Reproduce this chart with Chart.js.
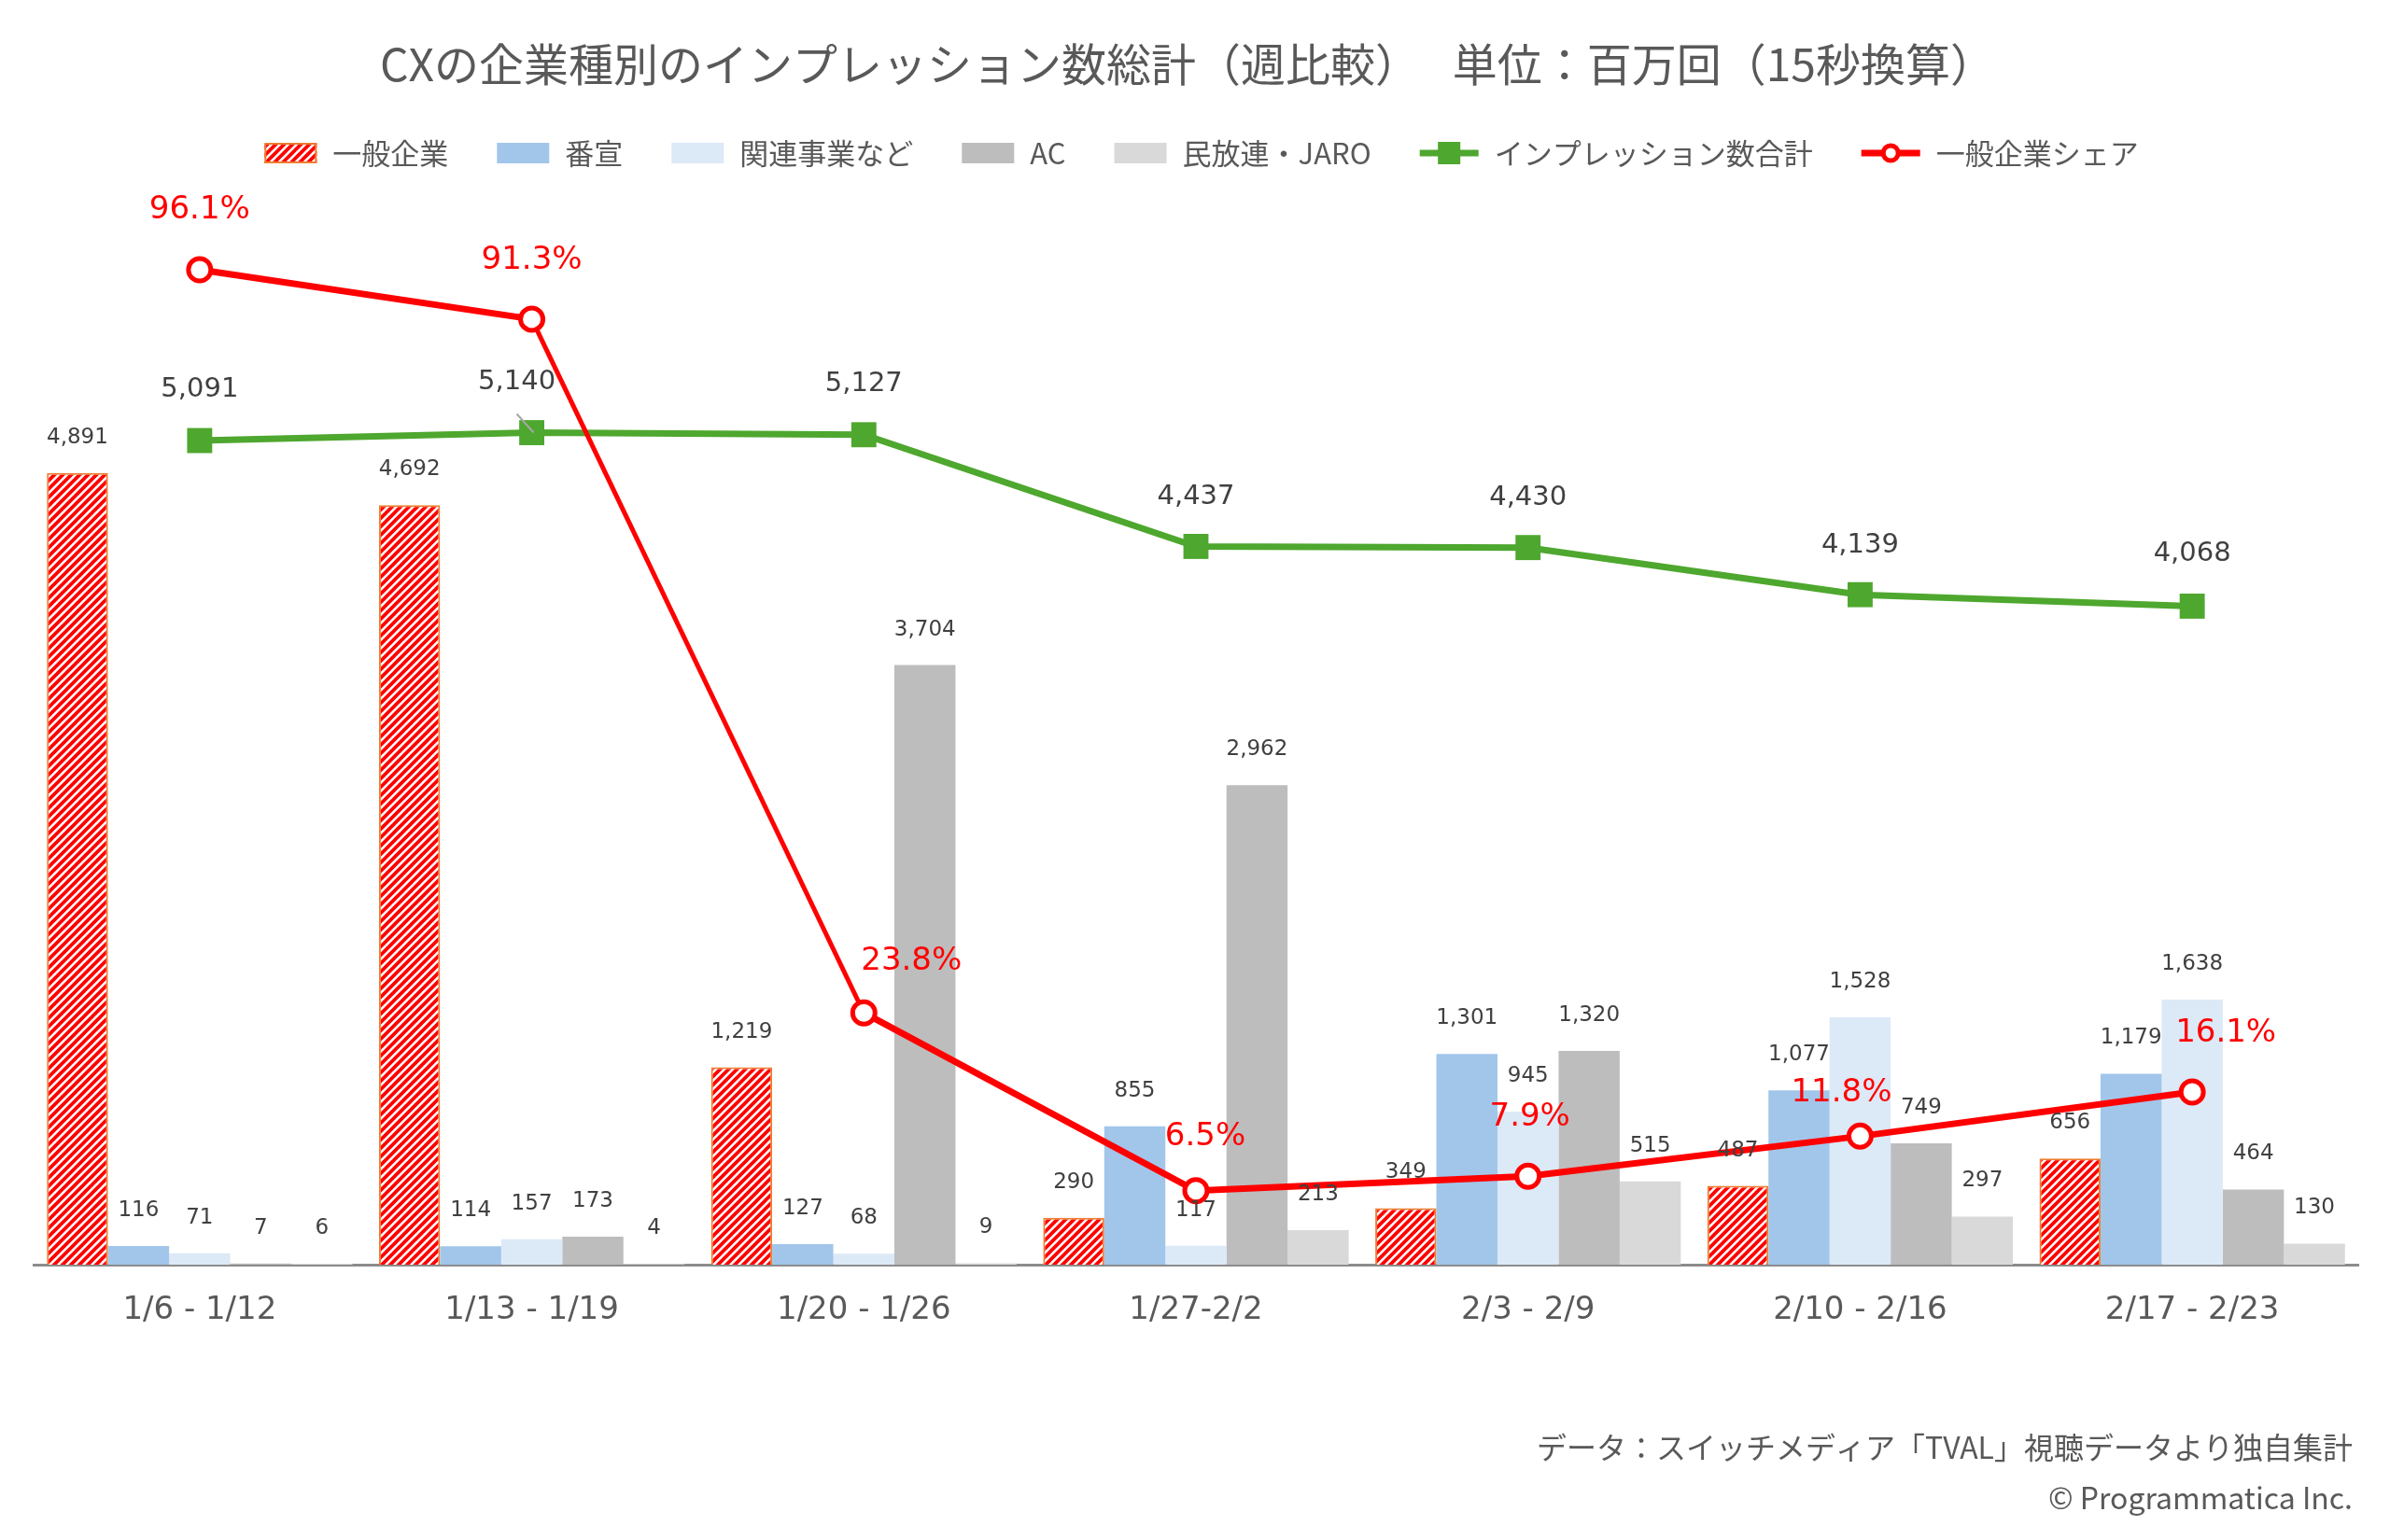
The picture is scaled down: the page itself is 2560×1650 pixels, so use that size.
<!DOCTYPE html>
<html lang="ja">
<head>
<meta charset="utf-8">
<title>CXの企業種別のインプレッション数総計</title>
<script src="https://cdn.jsdelivr.net/npm/chart.js@4.4.0/dist/chart.umd.min.js"></script>
<style>
  html, body { margin: 0; padding: 0; background: #fff; }
  #wrap { width: 2560px; height: 1650px; }
</style>
</head>
<body>
<div id="wrap"><canvas id="myChart" width="2560" height="1650"></canvas></div>
<script>
// データ（単位：百万回）
const weeks = ['1/6 - 1/12', '1/13 - 1/19', '1/20 - 1/26', '1/27-2/2', '2/3 - 2/9', '2/10 - 2/16', '2/17 - 2/23'];
const ippanKigyo = [4891, 4692, 1219, 290, 349, 487, 656];
const bansen = [116, 114, 127, 855, 1301, 1077, 1179];
const kanrenJigyo = [71, 157, 68, 117, 945, 1528, 1638];
const acData = [7, 173, 3704, 2962, 1320, 749, 464];
const minpororen = [6, 4, 9, 213, 515, 297, 130];
const impTotal = [5091, 5140, 5127, 4437, 4430, 4139, 4068];
const ippanShare = [96.1, 91.3, 23.8, 6.5, 7.9, 11.8, 16.1];

// ラベルの位置ずらし（px）
const totalLabelShift = [[0, -55], [-16, -54], [0, -54], [0, -53], [0, -53], [0, -53], [0, -56]];
const shareLabelShift = [[0, -65], [0, -64], [51, -56], [10, -59], [2, -64], [-20, -47], [36, -64]];

const TEXT_GRAY = '#595959';
const LABEL_GRAY = '#404040';
const JP_FONT = '"Noto Sans CJK JP", "Noto Sans", sans-serif';
const NUM_FONT = '"DejaVu Sans", Verdana, sans-serif';

const canvas = document.getElementById('myChart');
const mainCtx = canvas.getContext('2d');

// 一般企業の斜線パターン
function makeStripePattern() {
  const c = document.createElement('canvas');
  c.width = 9; c.height = 9;
  const g = c.getContext('2d');
  g.fillStyle = '#ffffff';
  g.fillRect(0, 0, 9, 9);
  g.strokeStyle = '#ff0000';
  g.lineWidth = 3.8;
  g.beginPath();
  g.moveTo(-2, 11); g.lineTo(11, -2);
  g.moveTo(-3, 3); g.lineTo(3, -3);
  g.moveTo(6, 12); g.lineTo(12, 6);
  g.stroke();
  return mainCtx.createPattern(c, 'repeat');
}
const stripe = makeStripePattern();

function fmt(v) {
  return v.toLocaleString('en-US');
}

// タイトル・凡例・出典・データラベルを描くプラグイン
const decorPlugin = {
  id: 'decor',
  afterDatasetsDraw(chart) {
    const ctx = chart.ctx;
    ctx.save();
    ctx.textAlign = 'center';
    ctx.textBaseline = 'middle';

    // 棒のラベル
    ctx.font = '23px ' + NUM_FONT;
    ctx.fillStyle = LABEL_GRAY;
    for (let i = 0; i < 5; i++) {
      const meta = chart.getDatasetMeta(i);
      meta.data.forEach((bar, j) => {
        const v = chart.data.datasets[i].data[j];
        ctx.fillText(fmt(v), bar.x, bar.y - 38);
      });
    }

    // インプレッション数合計のラベル
    const tMeta = chart.getDatasetMeta(5);
    ctx.font = '29px ' + NUM_FONT;
    tMeta.data.forEach((pt, j) => {
      const s = totalLabelShift[j];
      ctx.fillStyle = LABEL_GRAY;
      ctx.fillText(fmt(impTotal[j]), pt.x + s[0], pt.y + s[1]);
    });
    // 引き出し線
    const p1 = tMeta.data[1];
    ctx.strokeStyle = '#a6a6a6';
    ctx.lineWidth = 2;
    ctx.beginPath();
    ctx.moveTo(p1.x - 16, p1.y - 20);
    ctx.lineTo(p1.x + 2, p1.y);
    ctx.stroke();

    // シェアのラベル
    const sMeta = chart.getDatasetMeta(6);
    ctx.font = '34px ' + NUM_FONT;
    ctx.fillStyle = '#ff0000';
    sMeta.data.forEach((pt, j) => {
      const s = shareLabelShift[j];
      ctx.fillText(ippanShare[j].toFixed(1) + '%', pt.x + s[0], pt.y + s[1] + 1);
    });
    ctx.restore();
  },
  afterDraw(chart) {
    const ctx = chart.ctx;
    ctx.save();
    // タイトル
    ctx.font = '48px ' + JP_FONT;
    ctx.fillStyle = TEXT_GRAY;
    ctx.textAlign = 'center';
    ctx.textBaseline = 'middle';
    ctx.fillText('CXの企業種別のインプレッション数総計（週比較）　 単位：百万回（15秒換算）', 1272, 69);

    // 凡例
    ctx.font = '31px ' + JP_FONT;
    const ds = chart.data.datasets;
    const items = ds.map(d => {
      const iconW = d.type === 'line' ? 63 : 56;
      return { d, iconW, w: iconW + 17 + ctx.measureText(d.label).width };
    });
    const gap = 52;
    const total = items.reduce((s, it) => s + it.w, 0) + gap * (items.length - 1);
    let x = 1287 - total / 2;
    const ly = 164;
    items.forEach(it => {
      const d = it.d;
      if (d.type === 'line') {
        ctx.strokeStyle = d.borderColor;
        ctx.lineWidth = 7;
        ctx.beginPath();
        ctx.moveTo(x, ly);
        ctx.lineTo(x + it.iconW, ly);
        ctx.stroke();
        const cx = x + it.iconW / 2;
        if (d.pointStyle === 'rect') {
          ctx.fillStyle = d.pointBackgroundColor;
          ctx.fillRect(cx - 12, ly - 12, 24, 24);
        } else {
          ctx.beginPath();
          ctx.arc(cx, ly, 8, 0, Math.PI * 2);
          ctx.fillStyle = '#ffffff';
          ctx.fill();
          ctx.lineWidth = 5;
          ctx.strokeStyle = d.borderColor;
          ctx.stroke();
        }
      } else {
        ctx.fillStyle = d.backgroundColor;
        ctx.fillRect(x, ly - 11, it.iconW, 22);
        if (d.borderWidth) {
          ctx.strokeStyle = d.borderColor;
          ctx.lineWidth = 2;
          ctx.strokeRect(x + 1, ly - 10, it.iconW - 2, 20);
        }
      }
      ctx.fillStyle = TEXT_GRAY;
      ctx.textAlign = 'left';
      ctx.textBaseline = 'middle';
      ctx.fillText(d.label, x + it.iconW + 17, ly);
      x += it.w + gap;
    });

    // 出典
    ctx.textAlign = 'right';
    ctx.fillStyle = TEXT_GRAY;
    ctx.font = '32px ' + JP_FONT;
    ctx.fillText('データ：スイッチメディア「TVAL」視聴データより独自集計', 2520, 1551);
    ctx.fillText('© Programmatica Inc.', 2520, 1605);
    ctx.restore();
  }
};

const barCommon = {
  type: 'bar',
  order: 3,
  yAxisID: 'y',
  borderWidth: 0,
  barPercentage: 1.0,
  categoryPercentage: 0.92
};

const data = {
  labels: weeks,
  datasets: [
    Object.assign({}, barCommon, {
      label: '一般企業', data: ippanKigyo,
      backgroundColor: stripe, borderColor: '#ED7D31', borderWidth: 2
    }),
    Object.assign({}, barCommon, { label: '番宣', data: bansen, backgroundColor: '#A2C6EA' }),
    Object.assign({}, barCommon, { label: '関連事業など', data: kanrenJigyo, backgroundColor: '#DCE9F7' }),
    Object.assign({}, barCommon, { label: 'AC', data: acData, backgroundColor: '#BDBDBD' }),
    Object.assign({}, barCommon, { label: '民放連・JARO', data: minpororen, backgroundColor: '#D9D9D9' }),
    {
      type: 'line', label: 'インプレッション数合計', data: impTotal, yAxisID: 'y', order: 2,
      borderColor: '#4EA72E', borderWidth: 7,
      pointStyle: 'rect', pointRadius: 19, pointBackgroundColor: '#4EA72E', pointBorderWidth: 0,
      tension: 0
    },
    {
      type: 'line', label: '一般企業シェア', data: ippanShare, yAxisID: 'y2', order: 1,
      borderColor: '#FF0000', borderWidth: 7,
      segment: { borderWidth: c => (c.p0DataIndex === 1 ? 5 : 7) },
      pointStyle: 'circle', pointRadius: 12, pointBackgroundColor: '#ffffff',
      pointBorderColor: '#FF0000', pointBorderWidth: 5,
      tension: 0
    }
  ]
};

const config = {
  type: 'bar',
  data,
  options: {
    responsive: false,
    animation: false,
    layout: { padding: { top: 245, left: 36, right: 34, bottom: 0 } },
    plugins: {
      legend: { display: false },
      title: { display: false },
      tooltip: { enabled: false }
    },
    scales: {
      x: {
        grid: { display: false, drawTicks: false },
        border: { display: true, color: '#8c8c8c', width: 3 },
        ticks: { color: TEXT_GRAY, font: { family: NUM_FONT, size: 34 }, padding: 29 },
        afterFit(scale) { scale.height = 295; }
      },
      y: { display: false, min: 0, max: 6400 },
      y2: { display: false, position: 'right', min: -0.7, max: 100.1 }
    }
  },
  plugins: [decorPlugin]
};

new Chart(canvas, config);
</script>
</body>
</html>
